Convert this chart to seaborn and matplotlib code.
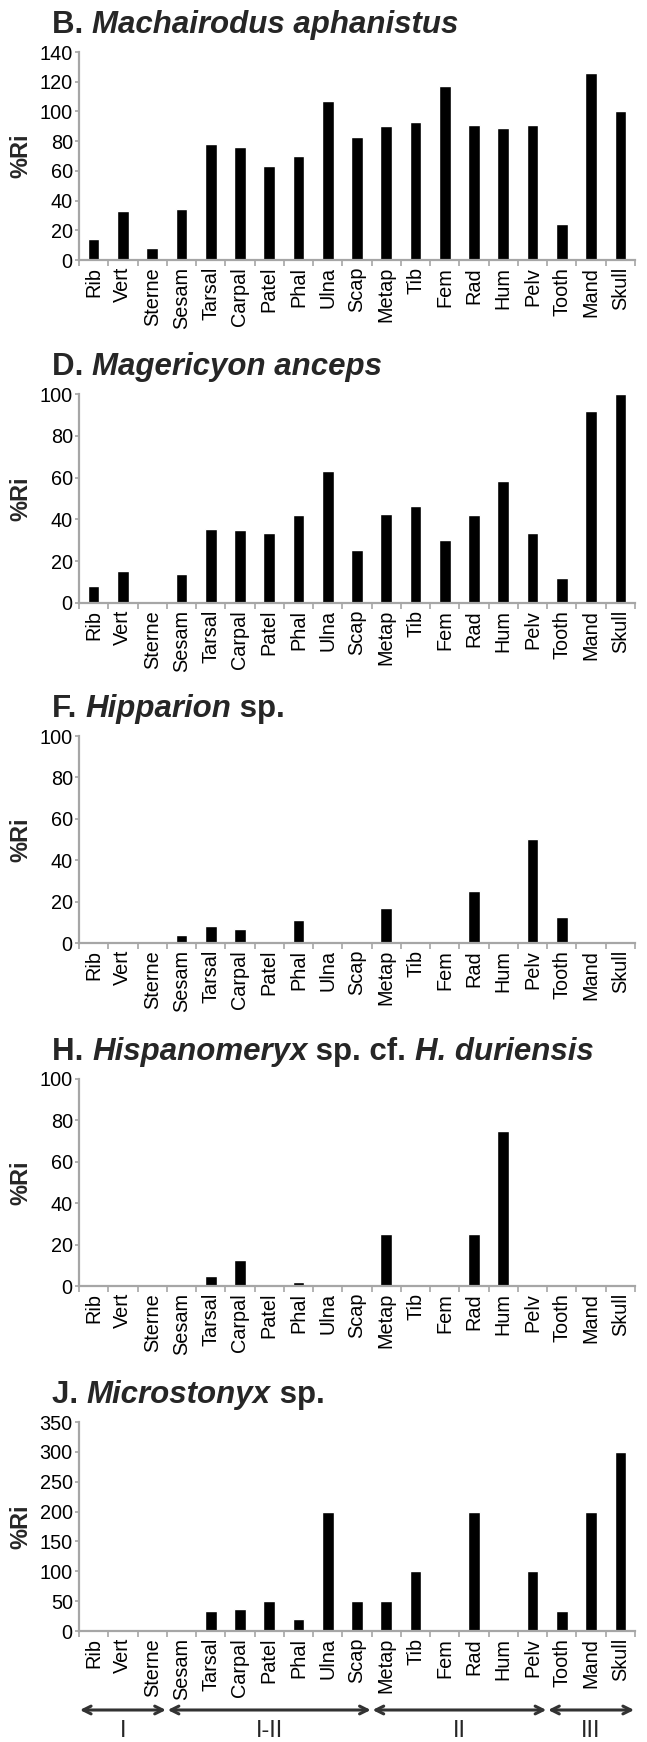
import matplotlib
matplotlib.use("Agg")
import matplotlib.pyplot as plt
import seaborn as sns
import pandas as pd

categories = ["Rib", "Vert", "Sterne", "Sesam", "Tarsal", "Carpal", "Patel", "Phal",
              "Ulna", "Scap", "Metap", "Tib", "Fem", "Rad", "Hum", "Pelv",
              "Tooth", "Mand", "Skull"]

machairodus = [14, 33, 8, 34, 78, 76, 63, 70, 107, 83, 90, 93, 117, 91, 89, 91, 24, 126, 100]
magericyon = [8, 15.5, 0, 14, 35.5, 35, 33.5, 42, 63, 25.5, 42.5, 46.5, 30, 42, 58.5, 33.5, 12, 92, 100]
hipparion = [0, 0, 0, 4, 8, 7, 0, 11, 0, 0, 17, 0, 0, 25, 0, 50, 12.5, 0, 0]
hispanomeryx = [0, 0, 0, 0, 5, 12.5, 0, 2, 0, 0, 25, 0, 0, 25, 75, 0, 0, 0, 0]
microstonyx = [0, 1.5, 0, 0, 33, 37, 50, 20, 200, 50, 50, 100, 0, 200, 0, 100, 33, 200, 300]

titles = [
    [("B. ", "normal"), ("Machairodus aphanistus", "italic")],
    [("D. ", "normal"), ("Magericyon anceps", "italic")],
    [("F. ", "normal"), ("Hipparion", "italic"), (" sp.", "normal")],
    [("H. ", "normal"), ("Hispanomeryx", "italic"), (" sp. cf. ", "normal"), ("H. duriensis", "italic")],
    [("J. ", "normal"), ("Microstonyx", "italic"), (" sp.", "normal")],
]
ymax = [140, 100, 100, 100, 350]
ystep = [20, 20, 20, 20, 50]
series = [machairodus, magericyon, hipparion, hispanomeryx, microstonyx]

group_labels = ["I", "I-II", "II", "III"]
group_first = ["Rib", "Sesam", "Metap", "Tooth"]
group_last = ["Sterne", "Scap", "Pelv", "Skull"]

sns.set_style("white")
plt.rcParams["font.family"] = ["Liberation Sans", "DejaVu Sans"]

W, H = 647, 1742
fig = plt.figure(figsize=(W / 100, H / 100), dpi=100)

tops = [52, 394, 736, 1079, 1422]
bottoms = [260, 603, 943, 1286, 1631]
title_base = [33, 375, 717, 1060, 1403]
left_px, right_px = 79, 635
gray = "#a6a6a6"
title_size = 22.5
tick_size = 14.3

axes = []
for i in range(5):
    rect = [left_px / W, 1 - bottoms[i] / H, (right_px - left_px) / W, (bottoms[i] - tops[i]) / H]
    ax = fig.add_axes(rect)
    df = pd.DataFrame({"cat": categories, "val": series[i]})
    sns.barplot(data=df, x="cat", y="val", order=categories, color="black",
                saturation=1, width=0.4, ax=ax)
    ax.set_xlim(-0.5, len(categories) - 0.5)
    ax.set_ylim(0, ymax[i])
    ax.set_yticks(range(0, ymax[i] + 1, ystep[i]))
    ax.set_xticks(range(len(categories)))
    ax.set_xticklabels(categories, rotation=90)
    ax.set_xticks([k - 0.5 for k in range(len(categories) + 1)], minor=True)
    ax.set_xlabel("")
    ax.set_ylabel("%Ri", fontsize=17, fontweight="bold", labelpad=0)
    ax.yaxis.set_label_coords(-0.083, 0.5)
    for s in ["top", "right"]:
        ax.spines[s].set_visible(False)
    for s in ["left", "bottom"]:
        ax.spines[s].set_color(gray)
        ax.spines[s].set_linewidth(1.6)
    ax.tick_params(axis="y", which="major", length=3, width=1.2, color=gray,
                   labelsize=tick_size, pad=1.5, labelcolor="black", left=True)
    ax.tick_params(axis="x", which="major", length=0, labelsize=tick_size, pad=5,
                   labelcolor="black")
    ax.tick_params(axis="x", which="minor", length=4, width=1.2, color=gray,
                   bottom=True)
    ax.grid(False)

    # title pieces chained on one baseline
    prev = None
    for text, style in titles[i]:
        if prev is None:
            prev = fig.text(52 / W, 1 - title_base[i] / H, text, fontsize=title_size,
                            fontweight="bold", fontstyle=style, va="baseline", ha="left")
        else:
            prev = ax.annotate(text, xy=(1, 0), xycoords=prev, fontsize=title_size,
                               fontweight="bold", fontstyle=style, va="bottom",
                               ha="left", annotation_clip=False)
    axes.append(ax)

# bone group arrows under the last panel
ax = axes[-1]
tr = ax.get_xaxis_transform()
y_arrow = (bottoms[-1] - 1710) / (bottoms[-1] - tops[-1])
y_lab = (bottoms[-1] - 1731) / (bottoms[-1] - tops[-1])
for lab, a, b in zip(group_labels, group_first, group_last):
    x0 = categories.index(a) - 0.5 + 0.03
    x1 = categories.index(b) + 0.5 - 0.03
    ax.annotate("", xy=(x1, y_arrow), xytext=(x0, y_arrow), xycoords=tr, textcoords=tr,
                arrowprops=dict(arrowstyle="<->", color="#333333", lw=2.2,
                                shrinkA=0, shrinkB=0, mutation_scale=14),
                annotation_clip=False)
    ax.text((x0 + x1) / 2, y_lab, lab, transform=tr, ha="center", va="center",
            fontsize=17, clip_on=False)

fig.savefig("out.png", dpi=100)
